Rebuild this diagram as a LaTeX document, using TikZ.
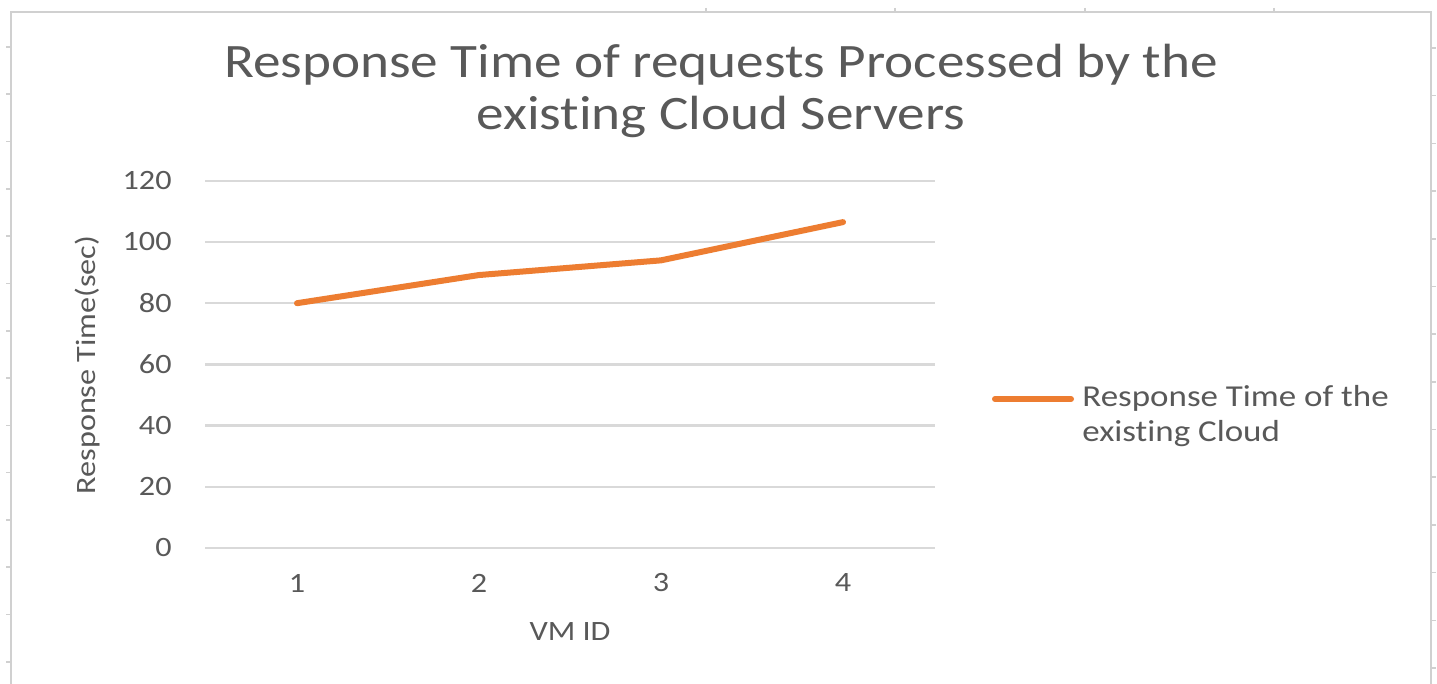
\documentclass[tikz,border=0pt]{standalone}
\usepackage{fontspec}
\setmainfont{Carlito}[FakeStretch=1.15,Ligatures=NoCommon]
\newcommand{\exst}{exist\kern0pt ing}
\definecolor{txt}{HTML}{595959}
\definecolor{grid}{HTML}{D9D9D9}
\definecolor{frame}{HTML}{D0D0D0}
\definecolor{series}{HTML}{ED7D31}
\begin{document}
\begin{tikzpicture}[x=0.5pt,y=-0.5pt,
  gridline/.style={draw=grid,line width=1.2pt},
  ticklab/.style={text=txt,font=\fontsize{14}{16}\selectfont,inner sep=0pt},
  axlab/.style={text=txt,font=\fontsize{14}{16}\selectfont,inner sep=0pt},
  sheettick/.style={draw=frame,line width=0.8pt},
  serieslin/.style={draw=series,line width=3pt,line cap=round,line join=round}]
\useasboundingbox[fill=white] (0,0) rectangle (1437,684);
% chart frame
\draw[draw=frame,line width=1.2pt] (11,700) -- (11,12) -- (1431,12) -- (1431,700);
\foreach \k in {0,...,13} {\draw[sheettick] (6,{47+47.3*\k}) -- (11,{47+47.3*\k});}
\foreach \k in {0,...,13} {\draw[sheettick] (1431,{48+47.7*\k}) -- (1436,{48+47.7*\k});}
\foreach \xx in {706,895,1085,1274} {\draw[sheettick] (\xx,8) -- (\xx,12);}
% title
\node[text=txt,font=\fontsize{24}{28}\selectfont,inner sep=0pt,anchor=base] (t1) at (721,78) {Response Time of requests Processed by the};
\node[text=txt,font=\fontsize{24}{28}\selectfont,inner sep=0pt,anchor=base] (t2) at (721,130) {\exst{} Cloud Servers};
% gridlines and y labels
\foreach \v [count=\i] in {0,20,40,60,80,100,120} {
  \pgfmathsetmacro{\yy}{548-3.06*\v}
  \draw[gridline] (205,\yy) -- (935,\yy);
  \node[ticklab,anchor=east] (y\i) at (172,\yy) {\v};
}
% x labels
\foreach \c/\xx in {1/297,2/479,3/661,4/843} {
  \node[ticklab,anchor=center] (x\c) at (\xx,583) {\c};
}
\node[axlab,anchor=center] (xlab) at (570,632) {VM ID};
\node[axlab,anchor=center,rotate=90] (ylab) at (88,365) {Response Time(sec)};
% series
\coordinate (p1) at (297,{548-3.06*80});
\coordinate (p2) at (479,{548-3.06*89.2});
\coordinate (p3) at (661,{548-3.06*94});
\coordinate (p4) at (843,{548-3.06*106.5});
\draw[serieslin] (p1) -- (p2) -- (p3) -- (p4);
% legend
\coordinate (l1) at (995,399);
\coordinate (l2) at (1071,399);
\draw[serieslin] (l1) -- (l2);
\node[axlab,anchor=base west,align=left,font=\fontsize{15.2}{17.5}\selectfont] (leg) at (1082,442) {Response Time of the\\\exst{} Cloud};
\end{tikzpicture}
\end{document}
